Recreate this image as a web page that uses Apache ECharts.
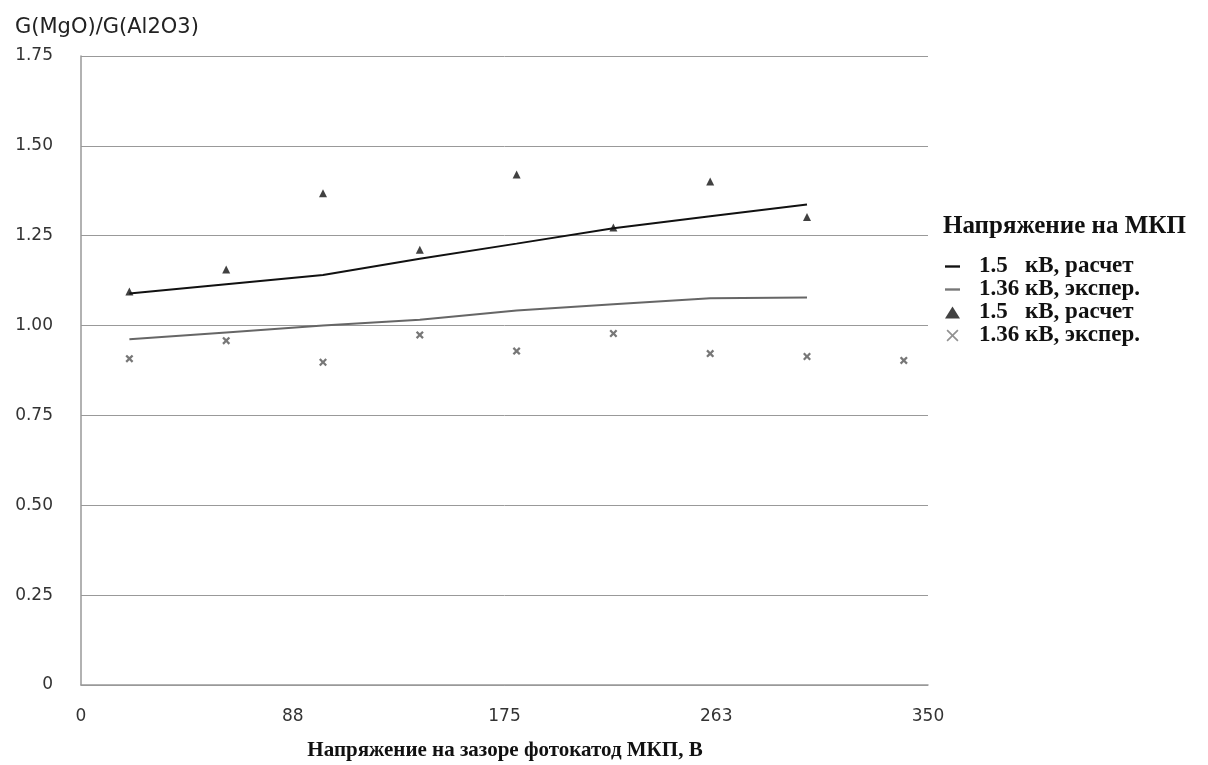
<!DOCTYPE html>
<html><head><meta charset="utf-8">
<script src="https://cdn.jsdelivr.net/npm/echarts@6/dist/echarts.min.js"></script>
<style>html,body{margin:0;padding:0;background:#fff}#c{width:1208px;height:765px}</style>
</head><body><div id="c"></div>
<script>
const xValues = [20, 60, 100, 140, 180, 220, 260, 300];
const xValuesExp = [20, 60, 100, 140, 180, 220, 260, 300, 340];
const calcLine = [1.089, 1.115, 1.141, 1.186, 1.228, 1.271, 1.304, 1.337];
const expLine = [0.962, 0.981, 1.000, 1.016, 1.042, 1.059, 1.076, 1.078];
const calcPoints = [1.095, 1.156, 1.368, 1.211, 1.420, 1.273, 1.401, 1.302];
const expPoints = [0.908, 0.958, 0.898, 0.974, 0.929, 0.978, 0.922, 0.914, 0.903];
const xTickLabels = ['0', '88', '175', '263', '350'];
const yTickLabels = ['0', '0.25', '0.50', '0.75', '1.00', '1.25', '1.50', '1.75'];
const seriesNames = ['1.5   кВ, расчет', '1.36 кВ, экспер.', '1.5   кВ, расчет ', '1.36 кВ, экспер. '];

const pair = (xs, ys) => ys.map((v, i) => [xs[i], v]);
const crossPath = 'path://M0,2L2,0L5,3L8,0L10,2L7,5L10,8L8,10L5,7L2,10L0,8L3,5Z';
const crossLegend = 'path://M1,0L5,4L9,0L10,1L6,5L10,9L9,10L5,6L1,10L0,9L4,5L0,1Z';
const linePath = 'path://M0,0L14,0L14,2.2L0,2.2Z';

const legendFont = {fontFamily: 'Liberation Serif', fontWeight: 'bold', color: '#111'};

const chart = echarts.init(document.getElementById('c'));
chart.setOption({
  animation: false,
  grid: {left: 81, right: 280, top: 56, bottom: 80},
  title: [
    {text: 'G(MgO)/G(Al2O3)', left: 10, top: 12,
     textStyle: {fontFamily: 'DejaVu Sans', fontSize: 21, fontWeight: 'normal', color: '#222'}},
    {text: 'Напряжение на МКП', left: 938, top: 209,
     textStyle: Object.assign({fontSize: 25}, legendFont)},
    {text: 'Напряжение на зазоре фотокатод МКП, В', left: 500, top: 735, textAlign: 'center',
     textStyle: {fontFamily: 'Liberation Serif', fontSize: 21, fontWeight: 'bold', color: '#111'}}
  ],
  legend: {
    orient: 'vertical', left: 940, top: 250, itemGap: 0, itemWidth: 15, itemHeight: 12,
    textStyle: Object.assign({fontSize: 23, lineHeight: 23, padding: [0, 0, 0, 14]}, legendFont),
    data: [
      {name: seriesNames[0], icon: linePath, itemStyle: {color: '#111'}},
      {name: seriesNames[1], icon: linePath, itemStyle: {color: '#777'}},
      {name: seriesNames[2], icon: 'triangle', itemStyle: {color: '#111'}},
      {name: seriesNames[3], icon: crossLegend, itemStyle: {color: '#777'}}
    ]
  },
  xAxis: {
    type: 'value', min: 0, max: 350, interval: 87.5,
    axisLine: {show: true, lineStyle: {color: '#999', width: 1.5}},
    axisTick: {show: false},
    splitLine: {show: false},
    axisLabel: {margin: 23, color: '#333', fontFamily: 'DejaVu Sans', fontSize: 17,
      formatter: (v) => xTickLabels[Math.round(v / 87.5)]}
  },
  yAxis: {
    type: 'value', min: 0, max: 1.75, interval: 0.25,
    axisLine: {show: true, lineStyle: {color: '#999', width: 1.5}},
    axisTick: {show: false},
    splitLine: {show: true, lineStyle: {color: '#999', width: 1}},
    axisLabel: {margin: 28, color: '#333', fontFamily: 'DejaVu Sans', fontSize: 17,
      formatter: (v) => yTickLabels[Math.round(v / 0.25)]}
  },
  series: [
    {name: seriesNames[0], type: 'line', data: pair(xValues, calcLine), showSymbol: false,
     lineStyle: {color: '#111', width: 2}, itemStyle: {color: '#111'}},
    {name: seriesNames[1], type: 'line', data: pair(xValues, expLine), showSymbol: false,
     lineStyle: {color: '#666', width: 2}, itemStyle: {color: '#666'}},
    {name: seriesNames[2], type: 'scatter', data: pair(xValues, calcPoints), symbol: 'triangle',
     symbolSize: 8, itemStyle: {color: '#111'}},
    {name: seriesNames[3], type: 'scatter', data: pair(xValuesExp, expPoints), symbol: crossPath,
     symbolSize: 8, itemStyle: {color: '#555'}}
  ]
});
</script></body></html>
